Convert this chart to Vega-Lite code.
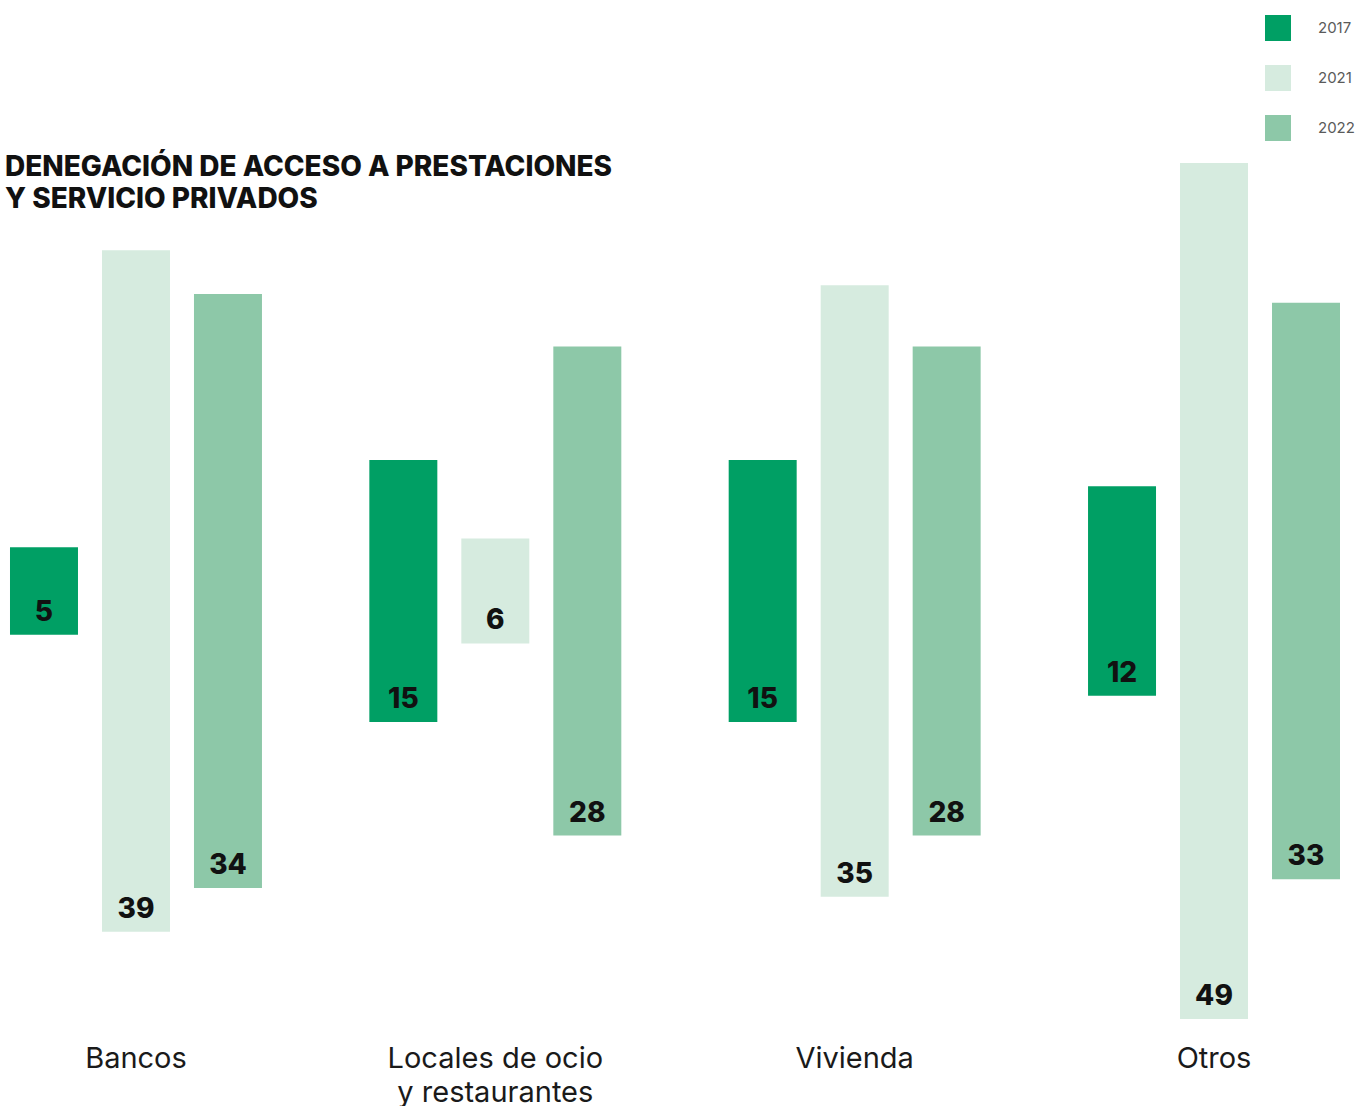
{
  "$schema": "https://vega.github.io/schema/vega-lite/v6.json",
  "padding": {"left": 5, "top": 0, "right": 0, "bottom": 0},
  "width": 1340,
  "height": 1025,
  "title": {
    "text": ["DENEGACIÓN DE ACCESO A PRESTACIONES", "Y SERVICIO PRIVADOS"],
    "anchor": "start",
    "frame": "group",
    "font": "Inter",
    "fontSize": 28,
    "fontWeight": 800,
    "color": "#111111",
    "lineHeight": 32,
    "offset": -214
  },
  "data": {
    "values": [
      {"categoria": "Bancos", "anio": "2017", "valor": 5},
      {"categoria": "Bancos", "anio": "2021", "valor": 39},
      {"categoria": "Bancos", "anio": "2022", "valor": 34},
      {"categoria": "Locales de ocio y restaurantes", "anio": "2017", "valor": 15},
      {"categoria": "Locales de ocio y restaurantes", "anio": "2021", "valor": 6},
      {"categoria": "Locales de ocio y restaurantes", "anio": "2022", "valor": 28},
      {"categoria": "Vivienda", "anio": "2017", "valor": 15},
      {"categoria": "Vivienda", "anio": "2021", "valor": 35},
      {"categoria": "Vivienda", "anio": "2022", "valor": 28},
      {"categoria": "Otros", "anio": "2017", "valor": 12},
      {"categoria": "Otros", "anio": "2021", "valor": 49},
      {"categoria": "Otros", "anio": "2022", "valor": 33}
    ]
  },
  "encoding": {
    "x": {
      "field": "categoria",
      "type": "nominal",
      "sort": ["Bancos", "Locales de ocio y restaurantes", "Vivienda", "Otros"],
      "scale": {"paddingInner": 0.2988, "paddingOuter": 0.0139},
      "axis": {
        "title": null,
        "domain": false,
        "ticks": false,
        "grid": false,
        "labelAngle": 0,
        "labelFont": "Inter",
        "labelFontSize": 29,
        "labelFontWeight": 400,
        "labelColor": "#1a1a1a",
        "labelPadding": 19,
        "labelLineHeight": 34,
        "labelLimit": 0,
        "labelExpr": "datum.label == 'Locales de ocio y restaurantes' ? ['Locales de ocio', 'y restaurantes'] : datum.label"
      }
    },
    "xOffset": {
      "field": "anio",
      "type": "nominal",
      "scale": {"paddingInner": 0.2609, "paddingOuter": 0}
    },
    "y": {
      "field": "valor",
      "type": "quantitative",
      "stack": "center",
      "scale": {"domain": [-9.33, 49.34], "nice": false, "zero": false, "reverse": true},
      "axis": null
    }
  },
  "layer": [
    {
      "mark": {"type": "bar", "opacity": 1},
      "encoding": {
        "color": {
          "field": "anio",
          "type": "nominal",
          "scale": {"domain": ["2017", "2021", "2022"], "range": ["#009f64", "#d6ebdf", "#8dc8a8"]},
          "legend": {
            "orient": "none",
            "legendX": 1260,
            "legendY": 15,
            "title": null,
            "padding": 0,
            "symbolType": "square",
            "symbolSize": 676,
            "symbolStrokeWidth": 0,
            "symbolOpacity": 1,
            "labelFont": "Inter",
            "labelFontSize": 15,
            "labelColor": "#5a5a5a",
            "labelOffset": 27,
            "rowPadding": 24
          }
        }
      }
    },
    {
      "mark": {
        "type": "text",
        "font": "Inter",
        "fontSize": 28,
        "fontWeight": 800,
        "baseline": "middle",
        "dy": -22,
        "color": "#111111"
      },
      "encoding": {
        "text": {"field": "valor", "type": "quantitative"}
      }
    }
  ],
  "config": {
    "view": {"stroke": null},
    "background": "#ffffff"
  }
}
